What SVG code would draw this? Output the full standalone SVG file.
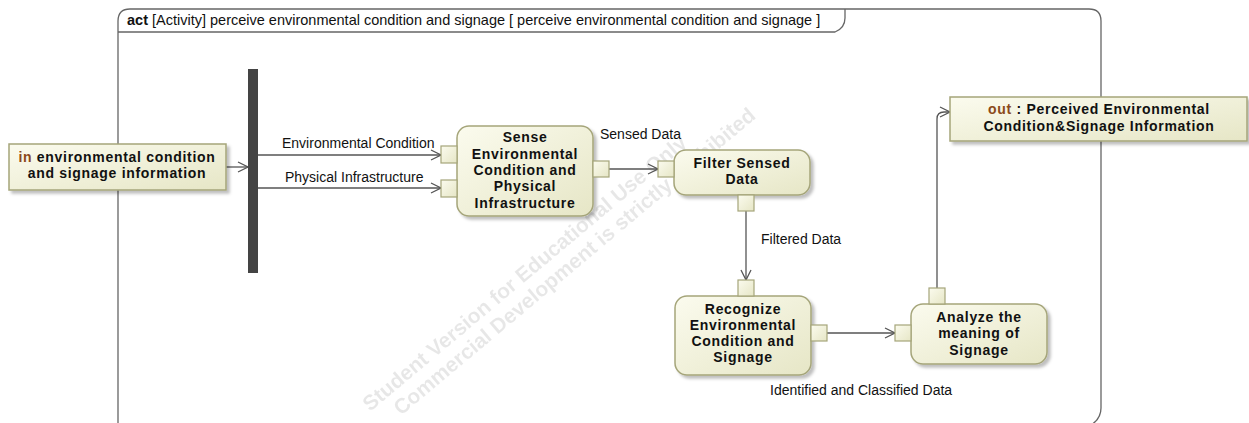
<svg xmlns="http://www.w3.org/2000/svg" width="1249" height="423" viewBox="0 0 1249 423">
<defs>
<linearGradient id="g" x1="0" y1="0" x2="1" y2="1">
<stop offset="0" stop-color="#fbfbee"/>
<stop offset="1" stop-color="#e6e6c6"/>
</linearGradient>
<filter id="sh" x="-10%" y="-10%" width="130%" height="130%">
<feDropShadow dx="3" dy="3" stdDeviation="1.5" flood-color="#000" flood-opacity="0.25"/>
</filter>
<marker id="arr" viewBox="0 0 12 12" refX="11" refY="6" markerWidth="12" markerHeight="12" markerUnits="userSpaceOnUse" orient="auto">
<path d="M1,1 L11,6 L1,11" fill="none" stroke="#555" stroke-width="1.3"/>
</marker>
</defs>
<style>
.act{fill:url(#g);stroke:#a5a57a;stroke-width:1.5;filter:url(#sh)}
.pin{fill:url(#g);stroke:#a5a57a;stroke-width:1.2}
.obj{fill:url(#g);stroke:#a5a57a;stroke-width:1.5;filter:url(#sh)}
.bt{font-family:"Liberation Sans",Arial,sans-serif;font-size:14px;font-weight:bold;fill:#111;text-anchor:middle;letter-spacing:0.7px}
.lt{font-family:"Liberation Sans",Arial,sans-serif;font-size:14px;fill:#111}
.edge{fill:none;stroke:#555;stroke-width:1.3;marker-end:url(#arr)}
.wm{font-family:"Liberation Sans",Arial,sans-serif;font-size:21px;font-weight:bold;fill:#000;opacity:0.09}
</style>
<rect width="1249" height="423" fill="#fff"/>
<g id="watermark">
<text class="wm" transform="translate(370,412) rotate(-40)">Student Version for Educational Use Only</text>
<text class="wm" transform="translate(401,416) rotate(-40)">Commercial Development is strictly prohibited</text>
</g>
<g id="frame">
<path d="M118,430 L118,21 Q118,9 130,9 L1089,9 Q1101,9 1101,21 L1101,408 Q1101,420 1089,426" fill="none" stroke="#666" stroke-width="1.3"/>
<path d="M118,32 L835,32 Q845,28 845,18 L845,9" fill="none" stroke="#666" stroke-width="1.3"/>
<text x="127" y="25" font-family="'Liberation Sans',Arial,sans-serif" font-size="14.5" fill="#111"><tspan font-weight="bold">act</tspan> [Activity] perceive environmental condition and signage [ perceive environmental condition and signage ]</text>
</g>
<g id="connectors">
<line class="edge" x1="226" y1="167" x2="248" y2="167"/>
<line class="edge" x1="258" y1="155" x2="441" y2="155"/>
<line class="edge" x1="258" y1="188" x2="441" y2="188"/>
<line class="edge" x1="609" y1="169" x2="658" y2="169"/>
<line class="edge" x1="746" y1="211" x2="746" y2="280"/>
<line class="edge" x1="827" y1="333" x2="895" y2="333"/>
<path class="edge" d="M937,288 L937,119 Q937,112 944,112 L950,112"/>
<text class="lt" x="282" y="148">Environmental Condition</text>
<text class="lt" x="285" y="182">Physical  Infrastructure</text>
<text class="lt" x="600" y="139">Sensed Data</text>
<text class="lt" x="761" y="244">Filtered Data</text>
<text class="lt" x="770" y="395">Identified and Classified Data</text>
</g>
<g id="input">
<rect class="obj" x="9" y="144" width="217" height="46"/>
<text class="bt" x="117" y="162"><tspan fill="#8b4a1a">in</tspan> environmental condition</text>
<text class="bt" x="117" y="178">and signage information</text>
</g>
<g id="fork">
<rect x="248" y="69" width="10" height="204" fill="#444"/>
</g>
<g id="sense">
<rect class="act" x="457" y="126" width="136" height="90" rx="12"/>
<rect class="pin" x="441" y="146" width="16" height="17"/>
<rect class="pin" x="441" y="180" width="16" height="17"/>
<rect class="pin" x="593" y="161" width="16" height="16"/>
<text class="bt" x="525" y="142">Sense</text>
<text class="bt" x="525" y="159">Environmental</text>
<text class="bt" x="525" y="175">Condition and</text>
<text class="bt" x="525" y="191">Physical</text>
<text class="bt" x="525" y="208">Infrastructure</text>
</g>
<g id="filter">
<rect class="act" x="674" y="150" width="136" height="45" rx="12"/>
<rect class="pin" x="658" y="161" width="16" height="16"/>
<rect class="pin" x="738" y="195" width="16" height="16"/>
<text class="bt" x="742" y="168">Filter Sensed</text>
<text class="bt" x="742" y="184">Data</text>
</g>
<g id="recognize">
<rect class="act" x="675" y="296" width="136" height="79" rx="12"/>
<rect class="pin" x="738" y="280" width="16" height="16"/>
<rect class="pin" x="811" y="325" width="16" height="16"/>
<text class="bt" x="743" y="314">Recognize</text>
<text class="bt" x="743" y="330">Environmental</text>
<text class="bt" x="743" y="346">Condition and</text>
<text class="bt" x="743" y="362">Signage</text>
</g>
<g id="analyze">
<rect class="act" x="911" y="304" width="136" height="60" rx="12"/>
<rect class="pin" x="895" y="325" width="16" height="16"/>
<rect class="pin" x="929" y="288" width="16" height="16"/>
<text class="bt" x="979" y="322">Analyze the</text>
<text class="bt" x="979" y="338">meaning of</text>
<text class="bt" x="979" y="355">Signage</text>
</g>
<g id="output">
<rect class="obj" x="950" y="97" width="297" height="44"/>
<text class="bt" x="1099" y="114"><tspan fill="#8b4a1a">out</tspan>  : Perceived Environmental</text>
<text class="bt" x="1099" y="131">Condition&amp;Signage Information</text>
</g>
</svg>
